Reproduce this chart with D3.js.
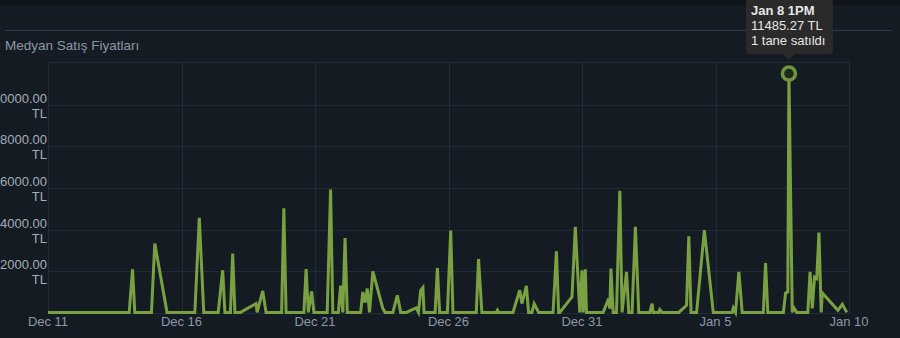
<!DOCTYPE html>
<html>
<head>
<meta charset="utf-8">
<script src="https://cdn.jsdelivr.net/npm/d3@7"></script>
<style>
  body { margin: 0; background: #141b23; }
  svg { display: block; }
</style>
</head>
<body>
<div id="chart"></div>
<script>
// sale timestamps (hourly) and median price in TL
var times = [
  "2023-12-11T19:00", "2023-12-14T20:00", "2023-12-14T23:00", "2023-12-15T01:00",
  "2023-12-15T16:00", "2023-12-15T19:00", "2023-12-16T06:00", "2023-12-17T07:00",
  "2023-12-17T11:00", "2023-12-17T15:00", "2023-12-18T04:00", "2023-12-18T08:00",
  "2023-12-18T10:00", "2023-12-18T15:00", "2023-12-18T17:00", "2023-12-18T19:00",
  "2023-12-19T00:00", "2023-12-19T14:00", "2023-12-19T15:00", "2023-12-19T20:00",
  "2023-12-19T23:00", "2023-12-20T13:00", "2023-12-20T15:00", "2023-12-20T17:00",
  "2023-12-21T09:00", "2023-12-21T11:00", "2023-12-21T13:00", "2023-12-21T16:00",
  "2023-12-21T18:00", "2023-12-22T06:00", "2023-12-22T09:00", "2023-12-22T11:00",
  "2023-12-22T16:00", "2023-12-22T18:00", "2023-12-22T20:00", "2023-12-22T22:00",
  "2023-12-23T00:00", "2023-12-23T12:00", "2023-12-23T14:00", "2023-12-23T16:00",
  "2023-12-23T18:00", "2023-12-23T20:00", "2023-12-23T23:00", "2023-12-24T08:00",
  "2023-12-24T10:00", "2023-12-24T17:00", "2023-12-24T21:00", "2023-12-25T00:00",
  "2023-12-25T05:00", "2023-12-25T14:00", "2023-12-25T16:00", "2023-12-25T18:00",
  "2023-12-25T20:00", "2023-12-25T21:00", "2023-12-26T07:00", "2023-12-26T09:00",
  "2023-12-26T11:00", "2023-12-26T18:00", "2023-12-26T21:00", "2023-12-26T23:00",
  "2023-12-27T20:00", "2023-12-27T22:00", "2023-12-28T01:00", "2023-12-28T14:00",
  "2023-12-28T15:00", "2023-12-28T16:00", "2023-12-29T05:00", "2023-12-29T11:00",
  "2023-12-29T13:00", "2023-12-29T17:00", "2023-12-29T19:00", "2023-12-29T22:00",
  "2023-12-30T00:00", "2023-12-30T04:00", "2023-12-30T17:00", "2023-12-30T20:00",
  "2023-12-30T22:00", "2023-12-30T23:00", "2023-12-31T10:00", "2023-12-31T13:00",
  "2023-12-31T17:00", "2023-12-31T19:00", "2023-12-31T20:00", "2023-12-31T22:00",
  "2023-12-31T23:00", "2024-01-01T14:00", "2024-01-01T19:00", "2024-01-01T20:00",
  "2024-01-01T21:00", "2024-01-01T23:00", "2024-01-02T02:00", "2024-01-02T05:00",
  "2024-01-02T07:00", "2024-01-02T11:00", "2024-01-02T13:00", "2024-01-02T16:00",
  "2024-01-02T19:00", "2024-01-02T22:00", "2024-01-03T08:00", "2024-01-03T10:00",
  "2024-01-03T11:00", "2024-01-03T16:00", "2024-01-03T17:00", "2024-01-03T19:00",
  "2024-01-04T10:00", "2024-01-04T17:00", "2024-01-04T19:00", "2024-01-04T21:00",
  "2024-01-05T02:00", "2024-01-05T09:00", "2024-01-05T17:00", "2024-01-06T10:00",
  "2024-01-06T11:00", "2024-01-06T13:00", "2024-01-06T16:00", "2024-01-06T19:00",
  "2024-01-07T14:00", "2024-01-07T16:00", "2024-01-07T18:00", "2024-01-08T08:00",
  "2024-01-08T10:00", "2024-01-08T12:00", "2024-01-08T13:00", "2024-01-08T16:00",
  "2024-01-08T17:00", "2024-01-08T20:00", "2024-01-09T06:00", "2024-01-09T08:00",
  "2024-01-09T10:00", "2024-01-09T12:00", "2024-01-09T14:00", "2024-01-09T16:00",
  "2024-01-09T18:00", "2024-01-09T19:00", "2024-01-10T09:00", "2024-01-10T13:00",
  "2024-01-10T17:00"
];

var prices = [
  30, 30, 2100, 30,
  30, 3330, 30, 30,
  4560, 30, 30, 2050,
  30, 30, 2850, 30,
  30, 450, 30, 1056,
  30, 30, 5025, 30,
  30, 2110, 30, 1040,
  30, 30, 5920, 30,
  30, 1315, 30, 3600,
  30, 30, 1010, 500,
  1170, 30, 2000, 210,
  30, 30, 850, 30,
  30, 240, 30, 1090,
  1220, 30, 30, 2160,
  30, 30, 3955, 30,
  30, 2590, 30, 30,
  130, 30, 30, 1090,
  450, 1300, 30, 30,
  450, 30, 30, 2960,
  30, 30, 770, 4130,
  30, 2050, 30, 2100,
  30, 30, 690, 200,
  2130, 30, 30, 5860,
  30, 1970, 30, 30,
  4130, 30, 30, 450,
  30, 30, 160, 30,
  30, 370, 3680, 30,
  30, 3970, 30, 30,
  240, 30, 1970, 30,
  30, 2400, 30, 30,
  960, 1010, 11485.27, 30,
  290, 30, 30, 1970,
  225, 1720, 1650, 3860,
  30, 960, 130, 420,
  30
];

var yTicks = [2000, 4000, 6000, 8000, 10000];
var xTicks = ["2023-12-11T19:00", "2023-12-16T19:00", "2023-12-21T19:00",
              "2023-12-26T19:00", "2023-12-31T19:00", "2024-01-05T19:00", "2024-01-10T19:00"];
var title = "Medyan Satış Fiyatları";
var hoverIndex = 122;
var tooltipLines = ["Jan 8 1PM", "11485.27 TL", "1 tane satıldı"];

var w = 900, h = 338;
var plotLeft = 48, plotRight = 849, plotTop = 62, plotBottom = 313;
var parse = d3.timeParse("%Y-%m-%dT%H:%M");

var data = times.map(function (t, i) {
    return { date: parse(t), value: prices[i] };
});

var x = d3.scaleTime()
    .domain([parse(xTicks[0]), parse(xTicks[xTicks.length - 1])])
    .range([plotLeft, plotRight]);

var y = d3.scaleLinear()
    .domain([0, 12040])
    .range([plotBottom, plotTop]);

var svg = d3.select("#chart")
    .append("svg")
    .attr("width", w)
    .attr("height", h)
    .style("font-family", "'Liberation Sans', Arial, sans-serif");

svg.append("rect")
    .attr("width", w).attr("height", h)
    .attr("fill", "#141b23");

svg.append("rect")
    .attr("width", w).attr("height", 5)
    .attr("fill", "#0f141b");

svg.append("line")
    .attr("x1", 5).attr("x2", 892)
    .attr("y1", 30.5).attr("y2", 30.5)
    .attr("stroke", "#2b3a4a")
    .attr("stroke-width", 1);

svg.append("text")
    .attr("x", 5).attr("y", 50)
    .attr("fill", "#8b98a5")
    .style("font-size", "13.5px")
    .text(title);

// grid
var grid = svg.append("g").attr("stroke", "#1e2b39").attr("stroke-width", 1);

grid.selectAll("line.h")
    .data(yTicks)
    .enter()
    .append("line")
    .attr("x1", plotLeft).attr("x2", plotRight)
    .attr("y1", function (d) { return Math.round(y(d)) + 0.5; })
    .attr("y2", function (d) { return Math.round(y(d)) + 0.5; });

grid.selectAll("line.v")
    .data(xTicks)
    .enter()
    .append("line")
    .attr("x1", function (d) { return Math.round(x(parse(d))) + 0.5; })
    .attr("x2", function (d) { return Math.round(x(parse(d))) + 0.5; })
    .attr("y1", plotTop).attr("y2", plotBottom);

svg.append("rect")
    .attr("x", plotLeft + 0.5).attr("y", plotTop + 0.5)
    .attr("width", plotRight - plotLeft).attr("height", plotBottom - plotTop)
    .attr("fill", "none")
    .attr("stroke", "#1f2d3b");

// y labels
var yl = svg.append("g")
    .attr("fill", "#a3adb8")
    .style("font-size", "13px")
    .attr("text-anchor", "end");

yTicks.forEach(function (d) {
    var t = yl.append("text").attr("x", 47).attr("y", y(d) - 2);
    t.append("tspan").attr("x", 47).text(d3.format(".2f")(d));
    t.append("tspan").attr("x", 47).attr("dy", 15).text("TL");
});

// x labels
svg.append("g")
    .attr("fill", "#8b98a5")
    .style("font-size", "13px")
    .attr("text-anchor", "middle")
    .selectAll("text")
    .data(xTicks)
    .enter()
    .append("text")
    .attr("x", function (d) { return x(parse(d)); })
    .attr("y", 326)
    .text(function (d) { return d3.timeFormat("%b %-d")(parse(d)); });

var line = d3.line()
    .x(function (d) { return x(d.date); })
    .y(function (d) { return y(d.value); });

svg.append("path")
    .datum(data)
    .attr("fill", "none")
    .attr("stroke", "#79a141")
    .attr("stroke-width", 3)
    .attr("stroke-linejoin", "miter")
    .attr("d", line);

// highlighted point + tooltip
var hp = data[hoverIndex];
var hx = x(hp.date), hy = y(hp.value);

svg.append("circle")
    .attr("cx", hx).attr("cy", hy)
    .attr("r", 6.5)
    .attr("fill", "#1c2a1c")
    .attr("stroke", "#6f963e")
    .attr("stroke-width", 3.5);

var tip = svg.append("g");
tip.append("rect")
    .attr("x", hx - 43).attr("y", -4)
    .attr("width", 87).attr("height", 58)
    .attr("rx", 3)
    .attr("fill", "#2a2a2a");
tip.append("path")
    .attr("d", "M" + (hx - 6) + ",54L" + hx + ",60L" + (hx + 6) + ",54Z")
    .attr("fill", "#2a2a2a");

tip.selectAll("text")
    .data(tooltipLines)
    .enter()
    .append("text")
    .attr("x", hx - 38)
    .attr("y", function (d, i) { return 15 + i * 15; })
    .attr("fill", "#e6e6e6")
    .style("font-size", "13px")
    .style("font-weight", function (d, i) { return i === 0 ? "bold" : "normal"; })
    .text(function (d) { return d; });
</script>
</body>
</html>
